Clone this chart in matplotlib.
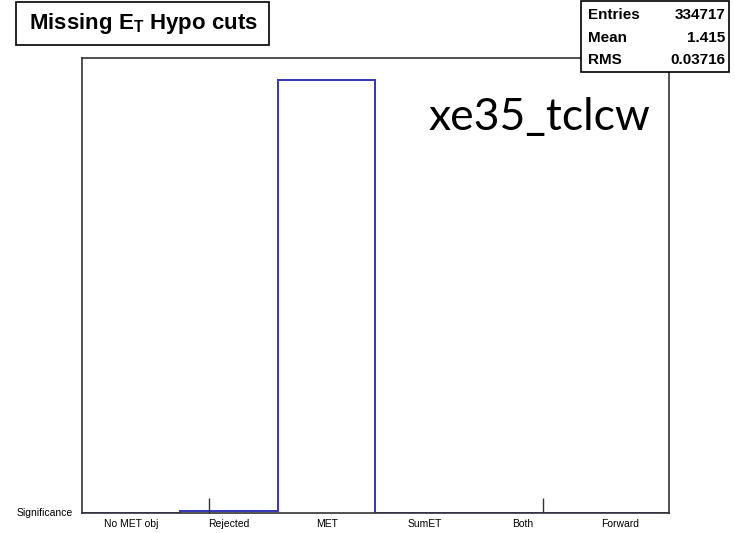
import matplotlib.pyplot as plt
import numpy as np
from matplotlib.patches import Rectangle

# histogram content
categories = ["No MET obj", "Rejected", "MET", "SumET", "Both", "Forward"]
counts = [0, 1500, 333217, 0, 0, 0]
stats_names = ["Entries", "Mean", "RMS"]
stats_values = ["334717", "1.415", "0.03716"]
tick_marks = [1.3, 4.71]

edges = np.arange(len(categories) + 1)
centers = edges[:-1] + 0.5

fig = plt.figure(figsize=(7.35, 5.33), dpi=100)
ax = fig.add_axes([82 / 735, 20 / 533, 587 / 735, 455 / 533])

ax.stairs(counts, edges, color="#3535b5", linewidth=1.4, baseline=0)
ax.set_xlim(edges[0], edges[-1])
ax.set_ylim(0, max(counts) * 1.05)

for s in ax.spines.values():
    s.set_color("#333333")
    s.set_linewidth(1.2)

ax.set_xticks(centers)
ax.set_xticklabels(categories, fontsize=7.5, family="Liberation Sans")
ax.tick_params(axis="x", which="major", length=0, pad=4)
ax.set_xticks(tick_marks, minor=True)
ax.tick_params(axis="x", which="minor", direction="in", length=11, width=1, color="#333333")
ax.set_yticks([])
ax.text(-0.016, 0.0, "Significance", transform=ax.transAxes, ha="right", va="center",
        fontsize=7.5, family="Liberation Sans")

ax.text(0.591, 0.842, "xe35_tclcw", transform=ax.transAxes, fontsize=32,
        family="Lato", ha="left", va="baseline")

# title box
fig.patches.append(Rectangle((16 / 735, 1 - 45 / 533), 253 / 735, 43 / 533,
                             transform=fig.transFigure, fill=True, facecolor="white",
                             edgecolor="black", linewidth=1.2))
fig.text(143 / 735, 1 - 23 / 533, r"Missing E$_\mathregular{T}$ Hypo cuts", ha="center", va="center",
         fontsize=16, fontweight="bold", family="Liberation Sans")

# stats box
fig.patches.append(Rectangle((581 / 735, 1 - 72 / 533), 148 / 735, 71 / 533,
                             transform=fig.transFigure, fill=True, facecolor="white",
                             edgecolor="black", linewidth=1.2, zorder=5))
for i, (n, v) in enumerate(zip(stats_names, stats_values)):
    y = 1 - (15 + i * 22.5) / 533
    fig.text(588 / 735, y, n, ha="left", va="center", fontsize=11,
             fontweight="bold", family="Liberation Sans", zorder=6)
    fig.text(725 / 735, y, v, ha="right", va="center", fontsize=11,
             fontweight="bold", family="Liberation Sans", zorder=6)

fig.savefig("out.png", dpi=100)
